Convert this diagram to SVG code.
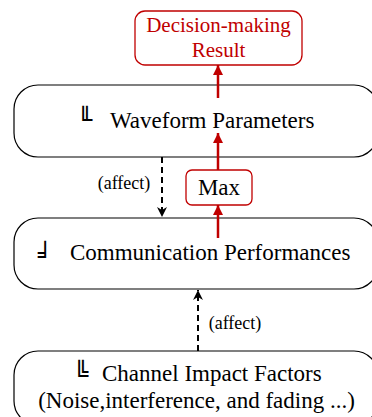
<svg xmlns="http://www.w3.org/2000/svg" width="372" height="417" viewBox="0 0 372 417">
<style>
.big{fill:#fff;stroke:#000;stroke-width:1.2}
.red{fill:#fff;stroke:#c00000;stroke-width:1.3}
.t{font-family:"Liberation Serif","Times New Roman",serif;font-size:23px;fill:#000}
.tr{font-family:"Liberation Serif","Times New Roman",serif;font-size:21px;fill:#c00000}
.ts{font-family:"Liberation Serif","Times New Roman",serif;font-size:18px;fill:#000}
.ic{font-family:"DejaVu Sans",sans-serif;font-size:24px;fill:#000}
.ra{stroke:#c00000;stroke-width:2.5;fill:none}
.da{stroke:#000;stroke-width:2;stroke-dasharray:6,4;fill:none}
</style>
<defs>
<marker id="mr" viewBox="0 0 10 10" refX="10" refY="5" markerWidth="4" markerHeight="4" markerUnits="strokeWidth" orient="auto"><path d="M0,0 L10,5 L0,10 Z" fill="#c00000"/></marker>
<marker id="mb" viewBox="0 0 10 10" refX="10" refY="5" markerWidth="5" markerHeight="5" markerUnits="strokeWidth" orient="auto"><path d="M0,0 L10,5 L0,10 L3,5 Z" fill="#000"/></marker>
</defs>
<g id="decision">
<rect class="red" x="135" y="11" width="167" height="54" rx="10"/>
<text class="tr" x="218.5" y="32" text-anchor="middle">Decision-making</text>
<text class="tr" x="218.5" y="57" text-anchor="middle">Result</text>
</g>
<g id="waveform">
<rect class="big" x="14" y="85" width="364" height="72" rx="24"/>
<text class="ic" x="78" y="128">╙</text>
<text class="t" x="110" y="128">Waveform Parameters</text>
</g>
<g id="max">
<rect class="red" x="186" y="170" width="66" height="35" rx="6"/>
<text class="t" x="219" y="195" text-anchor="middle">Max</text>
</g>
<g id="communication">
<rect class="big" x="14" y="218" width="364" height="71" rx="24"/>
<text class="ic" x="38" y="263">╛</text>
<text class="t" x="70" y="260">Communication Performances</text>
</g>
<g id="channel">
<rect class="big" x="14" y="351" width="364" height="74" rx="24"/>
<text class="ic" x="74" y="382">╚</text>
<text class="t" x="102" y="381">Channel Impact Factors</text>
<text class="t" x="196.5" y="408" text-anchor="middle">(Noise,interference, and fading ...)</text>
</g>
<g id="connectors">
<line class="ra" x1="218" y1="98" x2="218" y2="65" marker-end="url(#mr)"/>
<line class="ra" x1="218" y1="170" x2="218" y2="133" marker-end="url(#mr)"/>
<line class="ra" x1="218" y1="238" x2="218" y2="205" marker-end="url(#mr)"/>
<line class="da" x1="162" y1="157" x2="162" y2="217" marker-end="url(#mb)"/>
<line class="da" x1="198" y1="351" x2="198" y2="290" marker-end="url(#mb)"/>
<text class="ts" x="124" y="189" text-anchor="middle">(affect)</text>
<text class="ts" x="235" y="329" text-anchor="middle">(affect)</text>
</g>
</svg>
